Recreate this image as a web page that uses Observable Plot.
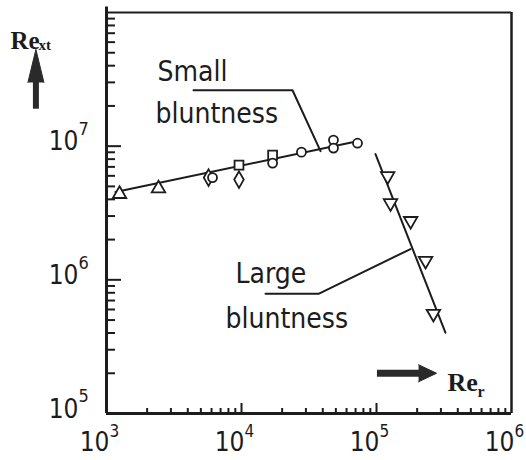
<!DOCTYPE html>
<html>
<head>
<meta charset="utf-8">
<script src="https://cdn.jsdelivr.net/npm/d3@7"></script>
<script src="https://cdn.jsdelivr.net/npm/@observablehq/plot@0.6"></script>
<style>
  body { margin: 0; background: #fff; }
  #chart svg { display: block; }
</style>
</head>
<body>
<div id="chart"></div>
<script>
// Transition Reynolds number Re_xt against nose Reynolds number Re_r

// Small bluntness measurements
const smallRe     = [1249, 2427, 5700, 6100, 9580, 9580, 17000, 17000, 27800, 48000, 48000, 72300];
const smallReXt   = [4.38e6, 4.82e6, 5.82e6, 5.82e6, 7.21e6, 5.62e6, 8.57e6, 7.47e6, 9.02e6, 1.11e7, 9.67e6, 1.052e7];
const smallSymbol = ["triangle", "triangle", "diamond", "circle", "square", "diamond", "square", "circle", "circle", "circle", "circle", "circle"];

// Large bluntness measurements
const largeRe   = [1.21e5, 1.27e5, 1.79e5, 2.31e5, 2.64e5];
const largeReXt = [5.97e6, 3.75e6, 2.76e6, 1.39e6, 5.58e5];

// Fitted trend lines (end points)
const smallFitRe   = [1166, 66400];
const smallFitReXt = [4.54e6, 1.07e7];
const largeFitRe   = [9.83e4, 3.24e5];
const largeFitReXt = [8.72e6, 4.02e5];

// Decade tick labels
const xDecades   = [1e3, 1e4, 1e5, 1e6];
const xExponents = ["3", "4", "5", "6"];
const yDecades   = [1e5, 1e6, 1e7];
const yExponents = ["5", "6", "7"];

// Leader lines from the labels to the curves
const smallLeaderRe   = [4410, 23870, 38500];
const smallLeaderReXt = [2.62e7, 2.62e7, 9.18e6];
const largeLeaderRe   = [15060, 37200, 1.786e5];
const largeLeaderReXt = [7.86e5, 7.86e5, 1.70e6];

// Curve labels
const curveLabels    = ["Small", "bluntness", "Large", "bluntness"];
const curveLabelRe   = [2388, 2306, 9030, 7610];
const curveLabelReXt = [3.58e7, 1.74e7, 1.114e6, 5.05e5];

const smallPoints = smallRe.map((x, i) => ({x, y: smallReXt[i], s: smallSymbol[i]}));
const largePoints = largeRe.map((x, i) => ({x, y: largeReXt[i]}));
const pts = (xs, ys) => xs.map((x, i) => ({x, y: ys[i]}));

// minor log ticks 2..9 within each decade
const minors = (decs) => decs.flatMap(d => d3.range(2, 10).map(k => k * d));

const ink = "#1c1c1c";
const sans = "'DejaVu Sans Condensed','Liberation Sans Narrow','DejaVu Sans',sans-serif";
const serif = "'Liberation Serif','DejaVu Serif',serif";

const W = 526, H = 460, mL = 106, mR = 15, mT = 12, mB = 47;
const fw = W - mL - mR, fh = H - mT - mB;

const marks = [
  // frame
  Plot.ruleY([1e8], {stroke: ink, strokeWidth: 2}),
  Plot.ruleX([1e6], {stroke: ink, strokeWidth: 2.5}),
  Plot.ruleX([1e3], {y1: 1e5, y2: 1.1e8, stroke: ink, strokeWidth: 3}),
  Plot.ruleY([1e5], {stroke: ink, strokeWidth: 3}),

  // inward ticks on the left axis
  Plot.tickY(minors([1e5, 1e6, 1e7]), {stroke: ink, strokeWidth: 2, insetRight: fw - 9}),
  Plot.tickY([1e6, 1e7], {stroke: ink, strokeWidth: 2, insetRight: fw - 15}),
  // inward ticks on the bottom axis
  Plot.tickX(minors([1e3, 1e4, 1e5]), {stroke: ink, strokeWidth: 2, insetTop: fh - 5}),
  Plot.tickX([1e4, 1e5], {stroke: ink, strokeWidth: 2, insetTop: fh - 10}),

  // tick labels
  Plot.text(yDecades, {x: () => 1e3, y: d => d, text: () => "10", textAnchor: "end", dx: -28, dy: -4,
    fontSize: 26, fontFamily: sans, fill: ink}),
  Plot.text(yDecades, {x: () => 1e3, y: d => d, text: (d, i) => yExponents[i], textAnchor: "start", dx: -28, dy: -17,
    fontSize: 18, fontFamily: sans, fill: ink}),
  Plot.text(xDecades, {x: d => d, y: () => 1e5, text: () => "10", textAnchor: "end", dx: 3, dy: 29,
    fontSize: 26, fontFamily: sans, fill: ink}),
  Plot.text(xDecades, {x: d => d, y: () => 1e5, text: (d, i) => xExponents[i], textAnchor: "start", dx: 3, dy: 18,
    fontSize: 17, fontFamily: sans, fill: ink}),

  // trend lines
  Plot.line(pts(smallFitRe, smallFitReXt), {x: "x", y: "y", stroke: ink, strokeWidth: 2}),
  Plot.line(pts(largeFitRe, largeFitReXt), {x: "x", y: "y", stroke: ink, strokeWidth: 2}),

  // leader lines
  Plot.line(pts(smallLeaderRe, smallLeaderReXt), {x: "x", y: "y", stroke: ink, strokeWidth: 2}),
  Plot.line(pts(largeLeaderRe, largeLeaderReXt), {x: "x", y: "y", stroke: ink, strokeWidth: 2}),

  // measured points
  ...["triangle", "diamond", "square", "circle"].map(s =>
    Plot.dot(smallPoints.filter(d => d.s === s), {x: "x", y: "y", symbol: s, r: s === "circle" ? 4.5 : 5,
      stroke: ink, strokeWidth: 1.8, fill: "white"})),
  Plot.dot(largePoints, {x: "x", y: "y", symbol: "triangle", rotate: 180, r: 5,
    stroke: ink, strokeWidth: 1.8, fill: "white"}),

  // curve labels
  Plot.text(curveLabels, {x: (d, i) => curveLabelRe[i], y: (d, i) => curveLabelReXt[i], text: d => d,
    textAnchor: "start", lineAnchor: "middle", fontSize: 28, fontFamily: sans, fill: ink}),

  // axis titles with arrows
  Plot.text(["Re"], {frameAnchor: "top-left", dx: -96, dy: 19, text: d => d, textAnchor: "start",
    fontSize: 25, fontWeight: "bold", fontFamily: serif, fill: ink}),
  Plot.text(["xt"], {frameAnchor: "top-left", dx: -68, dy: 27, text: d => d, textAnchor: "start",
    fontSize: 15, fontWeight: "bold", fontFamily: serif, fill: ink}),
  Plot.ruleX([300], {y1: 1.89e7, y2: 3.2e7, stroke: "#2a2a2a", strokeWidth: 6}),
  Plot.vector([300], {x: d => d, y: () => 3.0e7, length: 33, r: 8, rotate: 0, shape: "spike", anchor: "start",
    fill: "#2a2a2a", stroke: "#2a2a2a", strokeWidth: 1}),

  Plot.ruleY([2e5], {x1: 1.016e5, x2: 2.12e5, stroke: "#2a2a2a", strokeWidth: 7}),
  Plot.vector([2e5], {x: () => 2.05e5, y: d => d, length: 18, r: 8.5, rotate: 90, shape: "spike", anchor: "start",
    fill: "#2a2a2a", stroke: "#2a2a2a", strokeWidth: 1}),
  Plot.text(["Re"], {x: () => 3.36e5, y: () => 1.7e5, text: d => d, textAnchor: "start",
    fontSize: 26, fontWeight: "bold", fontFamily: serif, fill: ink}),
  Plot.text(["r"], {x: () => 3.36e5, y: () => 1.7e5, text: d => d, textAnchor: "start", dx: 30, dy: 9,
    fontSize: 16, fontWeight: "bold", fontFamily: serif, fill: ink})
];

const chart = Plot.plot({
  width: W,
  height: H,
  marginLeft: mL,
  marginRight: mR,
  marginTop: mT,
  marginBottom: mB,
  style: {background: "white", overflow: "visible"},
  x: {type: "log", domain: [1e3, 1e6], axis: null},
  y: {type: "log", domain: [1e5, 1e8], axis: null},
  marks
});

document.getElementById("chart").appendChild(chart);
</script>
</body>
</html>
